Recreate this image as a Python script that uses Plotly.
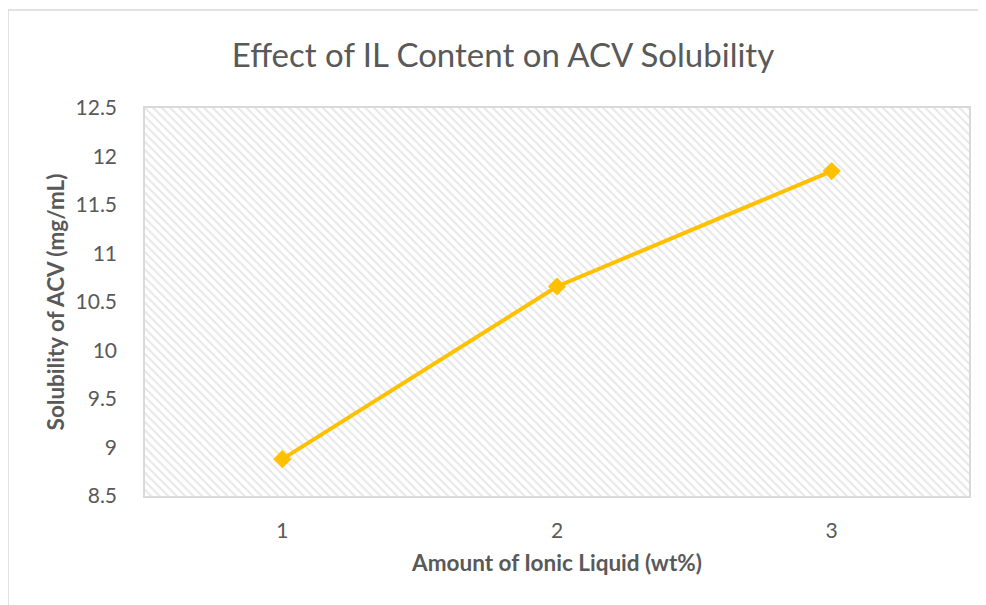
import plotly.graph_objects as go

x_vals = [1, 2, 3]
y_vals = [8.88, 10.66, 11.85]
x_range = [0.5, 3.5]
y_range = [8.5, 12.5]
y_ticks = [8.5, 9, 9.5, 10, 10.5, 11, 11.5, 12, 12.5]
y_ticklabels = ["8.5", "9", "9.5", "10", "10.5", "11", "11.5", "12", "12.5"]

FONT = "Lato"
GRAY = "#595959"

W, H = 978, 597
L, T, PW, PH = 137, 100, 824, 388

fig = go.Figure()

# hatched plot-area background
fig.add_trace(go.Scatter(
    x=[x_range[0], x_range[1], x_range[1], x_range[0], x_range[0]],
    y=[y_range[0], y_range[0], y_range[1], y_range[1], y_range[0]],
    mode="lines", line=dict(width=0), fill="toself", fillcolor="white",
    fillpattern=dict(shape="\\", fgcolor="#D0D0D0", bgcolor="white", size=6, solidity=0.35),
    hoverinfo="skip", showlegend=False,
))

fig.add_trace(go.Scatter(
    x=x_vals, y=y_vals, mode="lines+markers",
    line=dict(color="#FFC000", width=4),
    marker=dict(symbol="diamond", size=14, color="#FFC000"),
    showlegend=False,
))

fig.update_layout(
    width=W, height=H,
    margin=dict(l=L, r=W - L - PW, t=T, b=H - T - PH),
    paper_bgcolor="white", plot_bgcolor="white",
    title=dict(text="Effect of IL Content on ACV Solubility", x=495 / W,
               xanchor="center", y=1 - 47 / H, yanchor="middle",
               font=dict(family=FONT, size=33, color=GRAY)),
    font=dict(family=FONT, color=GRAY),
    xaxis=dict(range=x_range, tickvals=x_vals, ticktext=[str(v) for v in x_vals],
               showgrid=True, gridcolor="#D9D9D9", gridwidth=1.5,
               showline=True, linecolor="#D9D9D9", linewidth=1.5, mirror=True,
               zeroline=False, ticks="", ticklabelstandoff=15,
               tickfont=dict(size=21, color=GRAY),
               title=dict(text="<b>Amount of Ionic Liquid (wt%)</b>", standoff=14,
                          font=dict(size=22.5, color=GRAY))),
    yaxis=dict(range=y_range, tickvals=y_ticks, ticktext=y_ticklabels,
               showgrid=True, gridcolor="#D9D9D9", gridwidth=1.5,
               showline=True, linecolor="#D9D9D9", linewidth=1.5, mirror=True,
               zeroline=False, ticks="", ticklabelstandoff=22,
               tickfont=dict(size=21, color=GRAY),
               title=dict(text="<b>Solubility of ACV (mg/mL)</b>", standoff=5,
                          font=dict(size=22.5, color=GRAY))),
    shapes=[dict(type="rect", xref="paper", yref="paper",
                 x0=(0 - L) / PW, x1=(W + 20 - L) / PW,
                 y0=(T + PH - H - 20) / PH, y1=(T + PH - 2) / PH,
                 line=dict(color="#D9D9D9", width=1.5), layer="below")],
)

fig.write_html("out.html")
